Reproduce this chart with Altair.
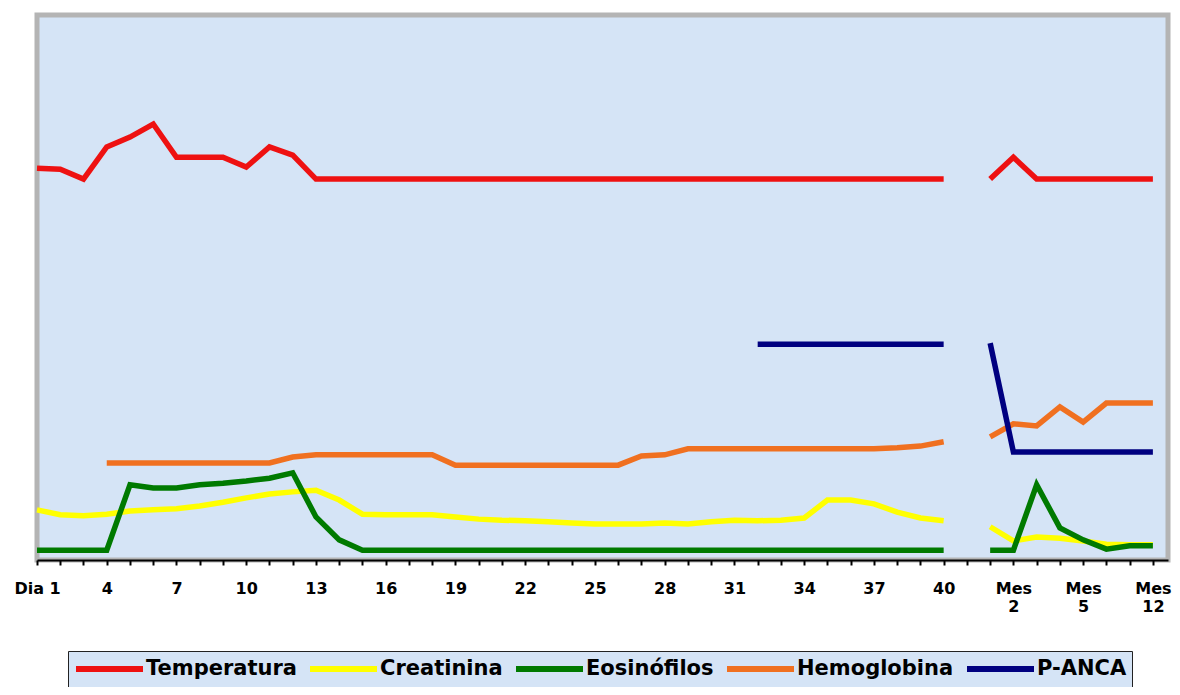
import json
import altair as alt
import pandas as pd

# category index 0..48 : Dia 1 .. Dia 40, (gap), months
tick_labels = ["Dia 1", "", "", "4", "", "", "7", "", "", "10", "", "", "13", "", "", "16", "", "",
               "19", "", "", "22", "", "", "25", "", "", "28", "", "", "31", "", "", "34", "", "",
               "37", "", "", "40", "", "", "Mes 2", "", "", "Mes 5", "", "", "Mes 12"]

series_names = ["Temperatura", "Creatinina", "Eosinófilos", "Hemoglobina", "P-ANCA"]
series_colors = ["#ee1111", "#ffff00", "#007a00", "#f07020", "#000080"]

temperatura = [71.9, 71.7, 69.9, 75.8, 77.6, 80.0, 73.9, 73.9, 73.9, 72.1, 75.8, 74.3,
               69.9, 69.9, 69.9, 69.9, 69.9, 69.9, 69.9, 69.9, 69.9, 69.9, 69.9, 69.9, 69.9, 69.9,
               69.9, 69.9, 69.9, 69.9, 69.9, 69.9, 69.9, 69.9, 69.9, 69.9, 69.9, 69.9, 69.9, 69.9,
               None, 69.9, 73.9, 69.9, 69.9, 69.9, 69.9, 69.9, 69.9]
creatinina = [9.2, 8.3, 8.1, 8.4, 9.0, 9.2, 9.4, 9.9, 10.6, 11.4, 12.1, 12.5, 12.8, 11.0, 8.4,
              8.3, 8.3, 8.3, 7.9, 7.5, 7.3, 7.2, 7.0, 6.8, 6.6, 6.6, 6.6, 6.8, 6.6, 7.0, 7.3, 7.2,
              7.3, 7.7, 11.0, 11.0, 10.3, 8.8, 7.7, 7.2,
              None, 6.1, 3.5, 4.2, 4.0, 3.5, 2.9, 2.8, 2.8]
eosinofilos = [1.8, 1.8, 1.8, 1.8, 13.8, 13.2, 13.2, 13.8, 14.1, 14.5, 15.0, 16.0, 7.9, 3.7,
               1.8, 1.8, 1.8, 1.8, 1.8, 1.8, 1.8, 1.8, 1.8, 1.8, 1.8, 1.8, 1.8, 1.8, 1.8, 1.8,
               1.8, 1.8, 1.8, 1.8, 1.8, 1.8, 1.8, 1.8, 1.8, 1.8,
               None, 1.8, 1.8, 13.8, 5.9, 3.7, 2.0, 2.6, 2.6]
hemoglobina = [None, None, None, 17.8, 17.8, 17.8, 17.8, 17.8, 17.8, 17.8, 17.8, 18.9,
               19.3, 19.3, 19.3, 19.3, 19.3, 19.3, 17.4, 17.4, 17.4, 17.4, 17.4, 17.4, 17.4, 17.4,
               19.1, 19.3, 20.4, 20.4, 20.4, 20.4, 20.4, 20.4, 20.4, 20.4, 20.4, 20.6, 20.9, 21.7,
               None, 22.6, 25.0, 24.6, 28.1, 25.3, 28.8, 28.8, 28.8]
panca = [None, None, None, None, None, None, None, None, None, None, None, None, None, None,
         None, None, None, None, None, None, None, None, None, None, None, None, None, None,
         None, None, None, 39.6, 39.6, 39.6, 39.6, 39.6, 39.6, 39.6, 39.6, 39.6,
         None, 39.8, 19.8, 19.8, 19.8, 19.8, 19.8, 19.8, 19.8]

rows = []
for name, vals in zip(series_names, [temperatura, creatinina, eosinofilos, hemoglobina, panca]):
    for i, v in enumerate(vals):
        if v is not None:
            rows.append({"idx": i, "valor": v, "serie": name, "tramo": 0 if i < 40 else 1})
df = pd.DataFrame(rows)

arr = json.dumps(tick_labels, ensure_ascii=False)
label_expr = f"indexof({arr}[datum.value], 'Mes') == 0 ? split({arr}[datum.value], ' ') : {arr}[datum.value]"

BG = "#d5e4f6"

chart = alt.Chart(df).mark_line(strokeWidth=5.5).encode(
    x=alt.X("idx:Q",
            scale=alt.Scale(domain=[0, 48.65], nice=False, zero=False),
            axis=alt.Axis(values=list(range(49)), labelExpr=label_expr, title=None,
                          grid=False, labelOverlap=False, labelFlush=False,
                          domainColor="black", domainWidth=2, tickColor="black",
                          tickWidth=2, tickSize=5, labelPadding=15,
                          labelFont="DejaVu Sans", labelFontWeight="bold", labelFontSize=16,
                          labelColor="black", labelLineHeight=18)),
    y=alt.Y("valor:Q", scale=alt.Scale(domain=[0, 100], nice=False), axis=None),
    color=alt.Color("serie:N",
                    scale=alt.Scale(domain=series_names, range=series_colors),
                    legend=alt.Legend(orient="none", legendX=31, legendY=636,
                                      direction="horizontal", title=None,
                                      symbolType="stroke", symbolSize=4489,
                                      symbolStrokeWidth=6, clipHeight=26,
                                      labelFont="DejaVu Sans",
                                      labelFontWeight="bold", labelFontSize=21,
                                      labelColor="black", labelLimit=400,
                                      fillColor=BG, strokeColor="#222222", padding=5,
                                      columnPadding=10, labelOffset=0)),
    detail="tramo:N",
).properties(
    width=1131, height=545,
    autosize=alt.AutoSizeParams(type="none"),
    padding={"left": 29, "top": 7, "right": 4, "bottom": 127},
    background="white",
).configure_view(
    fill=BG, stroke="#b4b4b4", strokeWidth=5
)

chart.save("out.html", embed_options={"renderer": "svg", "actions": False})
